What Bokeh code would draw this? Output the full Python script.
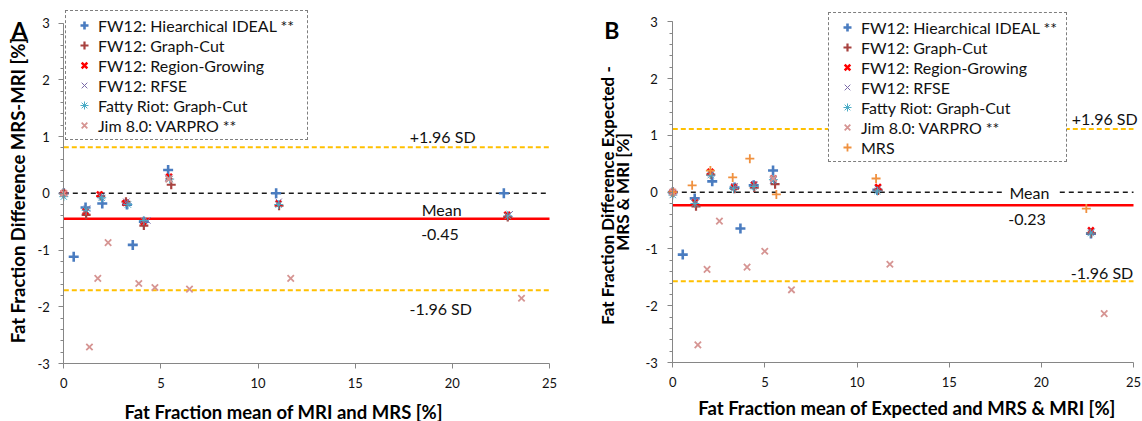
import math
from bokeh.plotting import figure
from bokeh.models import Label, Legend, LegendItem, FixedTicker, Range1d
from bokeh.layouts import row
from bokeh.embed import file_html
from bokeh.resources import INLINE

FONT = "Lato"

# ---------------- data ----------------
x_min, x_max = 0, 25
y_min, y_max = -3, 3
x_ticks = [0, 5, 10, 15, 20, 25]
x_tick_labels = ["0", "5", "10", "15", "20", "25"]
y_ticks = [-3, -2, -1, 0, 1, 2, 3]
y_tick_labels = ["-3", "-2", "-1", "0", "1", "2", "3"]
y_minor_ticks = [round(-3 + 0.2 * i, 1) for i in range(31)]

series_names = ["FW12: Hiearchical IDEAL **", "FW12: Graph-Cut", "FW12: Region-Growing",
                "FW12: RFSE", "Fatty Riot: Graph-Cut", "Jim 8.0: VARPRO **", "MRS"]

# Panel A: MRS - MRI
a_ideal_x = [0.0, 0.51, 1.12, 1.98, 3.25, 3.55, 4.12, 5.37, 10.93, 22.65]
a_ideal_y = [0.0, -1.12, -0.25, -0.18, -0.20, -0.91, -0.50, 0.41, 0.0, 0.0]
a_gc_x = [0.0, 1.15, 1.90, 3.20, 4.12, 5.53, 11.08, 22.85]
a_gc_y = [0.0, -0.38, -0.05, -0.15, -0.57, 0.15, -0.22, -0.42]
a_rg_x = [0.0, 1.12, 1.85, 3.18, 4.10, 5.42, 11.05, 22.82]
a_rg_y = [0.0, -0.32, -0.02, -0.17, -0.50, 0.29, -0.18, -0.38]
a_rfse_x = [0.0, 1.20, 1.95, 3.22, 4.30, 5.38, 11.06, 22.95]
a_rfse_y = [0.0, -0.27, -0.05, -0.15, -0.48, 0.27, -0.15, -0.37]
a_fr_x = [0.0, 1.15, 1.95, 3.30, 4.12, 5.45, 11.06, 22.85]
a_fr_y = [-0.06, -0.30, -0.08, -0.20, -0.48, 0.25, -0.20, -0.40]
a_jim_x = [0.0, 1.32, 1.75, 2.28, 3.86, 4.69, 5.40, 6.47, 11.68, 23.56]
a_jim_y = [0.0, -2.71, -1.50, -0.87, -1.59, -1.66, 0.25, -1.69, -1.50, -1.85]
a_mean = -0.45
a_sd_hi = 0.81
a_sd_lo = -1.71

# Panel B: Expected - MRS & MRI
b_ideal_x = [0.0, 0.54, 1.19, 2.14, 3.35, 3.67, 4.39, 5.44, 11.10, 22.69]
b_ideal_y = [0.0, -1.10, -0.11, 0.19, 0.08, -0.64, 0.12, 0.38, 0.04, -0.73]
b_gc_x = [0.0, 1.26, 2.06, 3.35, 4.42, 5.55, 11.14, 22.70]
b_gc_y = [0.0, -0.25, 0.31, 0.06, 0.08, 0.14, 0.03, -0.72]
b_rg_x = [0.0, 1.20, 2.04, 3.33, 4.40, 5.46, 11.14, 22.69]
b_rg_y = [0.0, -0.18, 0.36, 0.09, 0.13, 0.24, 0.09, -0.67]
b_rfse_x = [0.0, 1.22, 2.08, 3.35, 4.42, 5.44, 11.12, 22.72]
b_rfse_y = [0.0, -0.15, 0.33, 0.10, 0.14, 0.20, 0.06, -0.70]
b_fr_x = [0.0, 1.20, 2.06, 3.30, 4.40, 5.46, 11.10, 22.68]
b_fr_y = [-0.05, -0.20, 0.30, 0.06, 0.10, 0.22, 0.02, -0.72]
b_jim_x = [0.0, 1.36, 1.86, 2.53, 4.03, 4.99, 5.46, 6.44, 11.78, 23.41]
b_jim_y = [0.0, -2.69, -1.36, -0.51, -1.32, -1.04, 0.24, -1.72, -1.27, -2.14]
b_mrs_x = [0.0, 1.05, 2.04, 3.25, 4.18, 5.62, 11.03, 22.44]
b_mrs_y = [0.0, 0.12, 0.38, 0.26, 0.59, -0.04, 0.24, -0.29]
b_mean = -0.23
b_sd_hi = 1.11
b_sd_lo = -1.57

# ---------------- styles ----------------
styles = [
    dict(marker="cross", line_color="#4A7CC0", size=10, line_width=2.6),
    dict(marker="cross", line_color="#A8423F", size=9, line_width=2.2),
    dict(marker="x", line_color="#FF0000", size=8, line_width=2.5),
    dict(marker="x", line_color="#7B6BA8", size=9, line_width=1.0),
    dict(marker="asterisk", line_color="#4BACC6", size=9, line_width=1.0),
    dict(marker="x", line_color="#D69593", size=9, line_width=1.8),
    dict(marker="cross", line_color="#F0913F", size=9, line_width=1.8),
]

TXT = "#111111"
AX = "#868686"
W, H = 571, 421


def make_panel(series, mean, sd_hi, sd_lo, frame_px, legend_loc, label_width,
               texts, mean_bg, ylab_std):
    # frame_px: pixel positions of x=0, x=25, y=3, y=-3 inside this figure
    px0, px25, py3, pym3 = frame_px
    sx = (px25 - px0) / (x_max - x_min)
    sy = (pym3 - py3) / (y_max - y_min)
    xr = Range1d(x_min - px0 / sx, x_max + (W - px25) / sx)
    yr = Range1d(y_min - (H - pym3) / sy, y_max + py3 / sy)
    p = figure(width=W, height=H, output_backend="svg", toolbar_location=None,
               x_range=xr, y_range=yr,
               min_border_left=0, min_border_right=0, min_border_top=0, min_border_bottom=0)
    p.outline_line_color = None
    p.xgrid.visible = False
    p.ygrid.visible = False
    p.background_fill_color = "white"
    p.border_fill_color = "white"

    for ax in (p.xaxis[0], p.yaxis[0]):
        ax.axis_line_color = AX
        ax.major_tick_line_color = AX
        ax.minor_tick_line_color = AX
        ax.major_tick_in = 0
        ax.major_tick_out = 5
        ax.minor_tick_in = 0
        ax.minor_tick_out = 3
        ax.major_label_text_font = FONT
        ax.major_label_text_font_size = "13px"
        ax.major_label_text_color = TXT

    p.xaxis.fixed_location = y_min
    p.xaxis.bounds = (x_min, x_max)
    p.xaxis.ticker = FixedTicker(ticks=x_ticks)
    p.xaxis.major_label_overrides = dict(zip(x_ticks, x_tick_labels))
    p.xaxis.minor_tick_line_color = None
    p.xaxis.major_label_standoff = 9
    p.yaxis.fixed_location = x_min
    p.yaxis.bounds = (y_min, y_max)
    p.yaxis.ticker = FixedTicker(ticks=y_ticks, minor_ticks=y_minor_ticks)
    p.yaxis.major_label_overrides = dict(zip(y_ticks, y_tick_labels))
    p.yaxis.major_label_standoff = ylab_std

    # reference lines (from x_min to x_max)
    p.segment(x0=[x_min], y0=[0], x1=[x_max], y1=[0], line_color="#1a1a1a",
              line_width=1.5, line_dash="5 4")
    p.segment(x0=[x_min, x_min], y0=[sd_hi, sd_lo], x1=[x_max, x_max], y1=[sd_hi, sd_lo],
              line_color="#FFC000", line_width=2, line_dash="5 3")
    p.segment(x0=[x_min], y0=[mean], x1=[x_max], y1=[mean], line_color="#FF0000",
              line_width=2.5)

    items = []
    for (name, xs, ys), st in zip(series, styles):
        r = p.scatter(xs, ys, marker=st["marker"], size=st["size"],
                      line_color=st["line_color"], line_width=st["line_width"],
                      fill_color=None)
        items.append(LegendItem(label=name, renderers=[r]))

    for (txt, x, y) in texts:
        if mean_bg and txt == "Mean":
            p.add_layout(Label(x=x, y=y, text=txt, text_align="center", text_baseline="middle",
                               text_font=FONT, text_font_size="16px", text_color=TXT,
                               background_fill_color="white", padding=(7, 1)))
        else:
            p.add_layout(Label(x=x, y=y, text=txt, text_align="center", text_baseline="middle",
                               text_font=FONT, text_font_size="16px", text_color=TXT))

    leg = Legend(items=items, location=legend_loc, padding=4, spacing=0, margin=0,
                 glyph_width=28, glyph_height=20, label_height=20, label_standoff=0,
                 label_width=label_width,
                 label_text_font=FONT, label_text_font_size="16px", label_text_color=TXT,
                 border_line_color="#000000", border_line_width=1.5, border_line_dash="5 3",
                 background_fill_color="white", background_fill_alpha=1.0)
    p.add_layout(leg)
    return p


def screen_label(p, text, x, y, size, bold=True, angle=0.0):
    p.add_layout(Label(x=x, y=y, x_units="screen", y_units="screen", text=text,
                       text_align="center", text_baseline="middle", angle=angle,
                       text_font=FONT, text_font_size=size,
                       text_font_style="bold" if bold else "normal", text_color="#000000"))


series_a = [
    (series_names[0], a_ideal_x, a_ideal_y),
    (series_names[1], a_gc_x, a_gc_y),
    (series_names[2], a_rg_x, a_rg_y),
    (series_names[3], a_rfse_x, a_rfse_y),
    (series_names[4], a_fr_x, a_fr_y),
    (series_names[5], a_jim_x, a_jim_y),
]
series_b = [
    (series_names[0], b_ideal_x, b_ideal_y),
    (series_names[1], b_gc_x, b_gc_y),
    (series_names[2], b_rg_x, b_rg_y),
    (series_names[3], b_rfse_x, b_rfse_y),
    (series_names[4], b_fr_x, b_fr_y),
    (series_names[5], b_jim_x, b_jim_y),
    (series_names[6], b_mrs_x, b_mrs_y),
]

texts_a = [("+1.96 SD", 19.5, 1.0), ("Mean", 19.45, -0.29),
           (f"{a_mean:.2f}", 19.36, -0.72), ("-1.96 SD", 19.4, -2.03)]
texts_b = [("+1.96 SD", 23.44, 1.30), ("Mean", 19.35, 0.0),
           (f"{b_mean:.2f}", 19.22, -0.49), ("-1.96 SD", 23.29, -1.41)]

pa = make_panel(series_a, a_mean, a_sd_hi, a_sd_lo, (63.3, 549.0, 22.5, 363.0),
                (65, 281), 205, texts_a, False, 9)
screen_label(pa, "A", 19, 392, "23px")
screen_label(pa, "Fat Fraction Difference MRS-MRI [%]", 17.5, 231, "18.5px",
             angle=math.pi / 2)
screen_label(pa, "Fat Fraction mean of MRI and MRS  [%]", 285.5, 10, "18.5px")

pb = make_panel(series_b, b_mean, b_sd_hi, b_sd_lo, (101.3, 562.0, 21.3, 362.0),
                (257, 259), 201, texts_b, True, 10)
screen_label(pb, "B", 40.3, 392, "23px")
screen_label(pb, "Fat Fraction Difference Expected -", 35.5, 226, "17px",
             angle=math.pi / 2)
screen_label(pb, "MRS & MRI [%]", 50.5, 229.5, "17px", angle=math.pi / 2)
screen_label(pb, "Fat Fraction mean of Expected and MRS & MRI [%]", 335.5, 14, "18.5px")

layout = row(pa, pb)
open("out.html", "w").write(file_html(layout, INLINE))
